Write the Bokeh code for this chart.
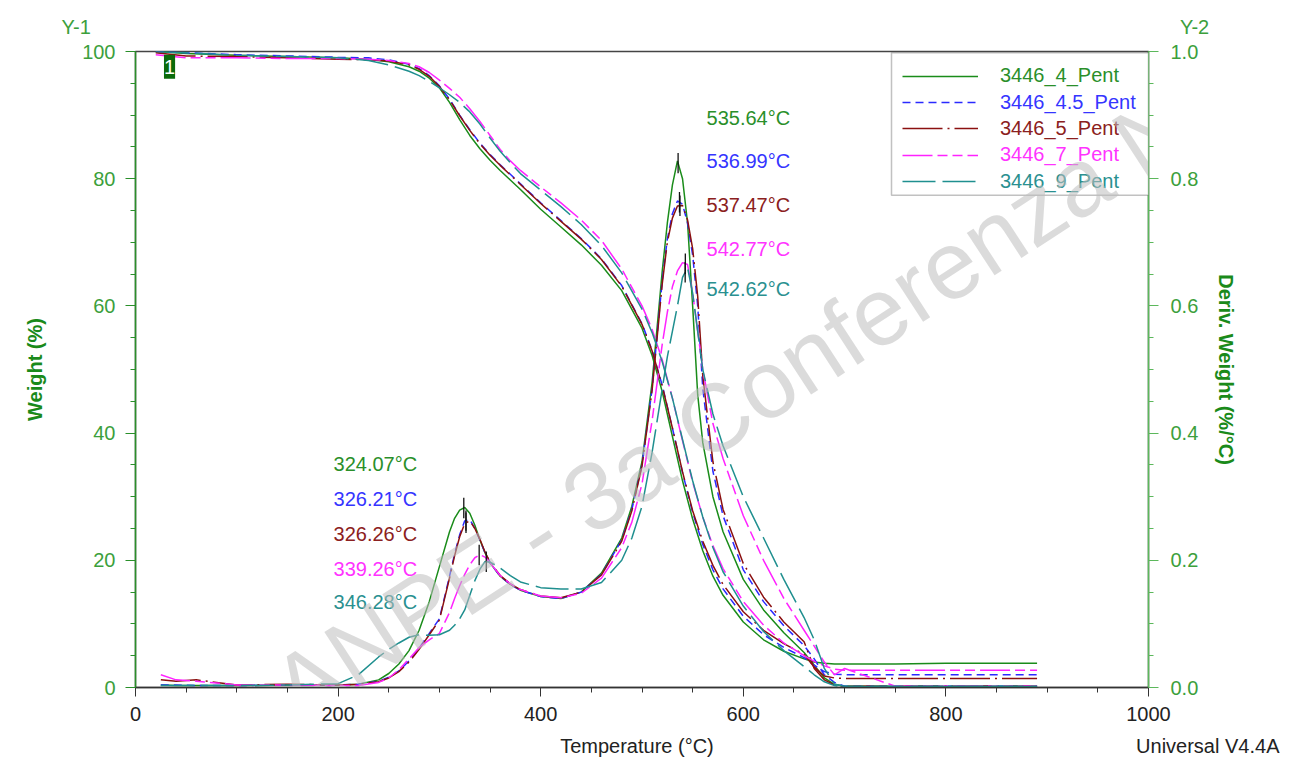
import numpy as np
from bokeh.plotting import figure
from bokeh.models import (Range1d, LinearAxis, FixedTicker, NumeralTickFormatter, Label,
                          Legend, LegendItem, BoxAnnotation, Title)
from bokeh.embed import file_html
from bokeh.resources import INLINE
try:
    from bokeh.models import HTMLLabel as OutLabel
except ImportError:
    OutLabel = Label

FONT = "Liberation Sans"
NB = "\u00a0"

# ---------------- data ----------------
series_names = ["3446_4_Pent", "3446_4.5_Pent", "3446_5_Pent", "3446_7_Pent", "3446_9_Pent"]

T_WEIGHT = [20, 50, 100, 150, 200, 230, 250, 270, 280, 290, 300, 310, 320, 330, 340,
            350, 360, 370, 380, 400, 420, 440, 460, 480, 500, 510, 520, 530, 540, 550,
            560, 570, 580, 600, 620, 640, 660, 670, 680, 690, 700, 750, 800, 850, 890]

W_4 = [100.0, 99.7, 99.4, 99.2, 99.0, 98.8, 98.4, 97.6, 96.9, 95.8,
       94.3, 92.0, 89.3, 86.8, 84.7, 82.9, 81.3, 79.8, 78.3, 75.2,
       72.4, 69.6, 66.4, 62.4, 56.5, 52.2, 46.5, 39.5, 32.5, 26.5,
       21.5, 17.5, 14.5, 10.3, 7.5, 5.7, 4.5, 4.0, 3.8, 3.7,
       3.7, 3.7, 3.8, 3.8, 3.8]
W_45 = [100.0, 99.8, 99.5, 99.3, 99.1, 99.0, 98.7, 98.0, 97.3, 96.2,
        94.6, 92.5, 90.0, 87.7, 85.6, 83.8, 82.2, 80.7, 79.2, 76.2,
        73.4, 70.6, 67.4, 63.2, 57.2, 53.0, 47.5, 40.8, 33.8, 27.5,
        22.5, 18.5, 15.5, 11.2, 8.3, 6.3, 4.7, 3.5, 2.5, 2.1,
        2.0, 2.0, 2.0, 2.0, 2.0]
W_5 = [99.8, 99.3, 99.2, 99.0, 98.8, 98.7, 98.5, 97.9, 97.2, 96.1,
       94.5, 92.4, 89.9, 87.6, 85.5, 83.7, 82.1, 80.6, 79.1, 76.1,
       73.3, 70.5, 67.3, 63.1, 57.1, 52.9, 47.4, 40.8, 33.9, 27.8,
       23.0, 19.2, 16.2, 11.9, 9.0, 6.9, 5.2, 3.2, 1.8, 1.5,
       1.4, 1.4, 1.4, 1.4, 1.4]
W_7 = [99.5, 99.0, 99.0, 98.9, 98.9, 98.8, 98.6, 98.1, 97.6, 96.7,
       95.5, 94.2, 92.8, 91.0, 89.0, 86.8, 84.6, 82.8, 81.3, 78.7,
       76.2, 73.5, 70.3, 65.8, 60.0, 56.3, 51.5, 45.5, 38.8, 32.3,
       26.8, 22.3, 18.7, 13.5, 9.8, 7.0, 5.0, 4.1, 3.4, 2.9,
       2.7, 2.7, 2.7, 2.7, 2.7]
W_9 = [100.0, 99.8, 99.4, 99.2, 99.0, 98.6, 97.9, 96.9, 96.2, 95.3,
       94.3, 93.2, 92.0, 90.5, 88.6, 86.4, 84.3, 82.5, 80.8, 78.2,
       75.6, 72.8, 69.5, 65.2, 59.5, 55.8, 51.2, 45.5, 39.0, 32.5,
       26.8, 22.0, 18.2, 12.8, 8.8, 5.8, 3.3, 2.0, 0.9, 0.3,
       0.1, 0.1, 0.1, 0.1, 0.1]

T_DERIV = [25, 40, 60, 100, 150, 200, 220, 240, 250, 260, 270, 280, 290, 300, 310,
           315, 320, 325, 330, 335, 340, 345, 350, 360, 370, 380, 400, 420, 440, 460,
           480, 490, 500, 510, 520, 525, 530, 535, 540, 545, 550, 555, 560, 570, 580,
           600, 620, 640, 660, 670, 680, 690, 700, 750, 800, 850, 890]

D_4 = [0.004, 0.003, 0.003, 0.003, 0.004, 0.004, 0.005, 0.012, 0.022, 0.037,
       0.058, 0.090, 0.135, 0.190, 0.245, 0.266, 0.279, 0.283, 0.274, 0.255,
       0.232, 0.212, 0.196, 0.175, 0.162, 0.153, 0.143, 0.140, 0.150, 0.180,
       0.235, 0.285, 0.355, 0.480, 0.655, 0.730, 0.790, 0.828, 0.800, 0.730,
       0.600, 0.460, 0.385, 0.300, 0.245, 0.170, 0.122, 0.086, 0.055, 0.035,
       0.015, 0.005, 0.002, 0.002, 0.002, 0.002, 0.002]
D_45 = [0.004, 0.004, 0.003, 0.003, 0.004, 0.004, 0.005, 0.010, 0.016, 0.026,
        0.042, 0.062, 0.085, 0.108, 0.175, 0.210, 0.240, 0.262, 0.264, 0.250,
        0.232, 0.212, 0.196, 0.175, 0.162, 0.153, 0.143, 0.140, 0.150, 0.178,
        0.232, 0.280, 0.350, 0.470, 0.640, 0.705, 0.745, 0.765, 0.760, 0.730,
        0.680, 0.600, 0.470, 0.340, 0.270, 0.185, 0.135, 0.097, 0.066, 0.045,
        0.020, 0.008, 0.002, 0.002, 0.002, 0.002, 0.002]
D_5 = [0.012, 0.010, 0.012, 0.004, 0.005, 0.004, 0.005, 0.009, 0.015, 0.025,
       0.040, 0.060, 0.083, 0.106, 0.172, 0.207, 0.237, 0.258, 0.262, 0.250,
       0.233, 0.213, 0.197, 0.176, 0.163, 0.154, 0.144, 0.141, 0.150, 0.177,
       0.230, 0.278, 0.348, 0.468, 0.635, 0.700, 0.738, 0.757, 0.758, 0.735,
       0.690, 0.615, 0.490, 0.355, 0.280, 0.195, 0.142, 0.103, 0.072, 0.030,
       0.012, 0.004, 0.002, 0.002, 0.002, 0.002, 0.002]
D_7 = [0.020, 0.012, 0.010, 0.004, 0.004, 0.003, 0.003, 0.008, 0.015, 0.028,
       0.045, 0.063, 0.075, 0.085, 0.118, 0.140, 0.160, 0.178, 0.193, 0.204,
       0.209, 0.205, 0.196, 0.176, 0.163, 0.154, 0.144, 0.141, 0.148, 0.172,
       0.220, 0.260, 0.320, 0.420, 0.540, 0.590, 0.630, 0.655, 0.668, 0.665,
       0.620, 0.560, 0.500, 0.415, 0.360, 0.270, 0.200, 0.140, 0.090, 0.065,
       0.040, 0.020, 0.030, 0.002, 0.002, 0.002, 0.002]
D_9 = [0.003, 0.003, 0.003, 0.003, 0.004, 0.006, 0.020, 0.048, 0.060, 0.070,
       0.079, 0.083, 0.082, 0.083, 0.090, 0.098, 0.108, 0.122, 0.145, 0.168,
       0.186, 0.198, 0.197, 0.188, 0.176, 0.166, 0.157, 0.155, 0.155, 0.165,
       0.200, 0.235, 0.285, 0.370, 0.470, 0.520, 0.560, 0.600, 0.645, 0.660,
       0.620, 0.560, 0.500, 0.430, 0.380, 0.300, 0.235, 0.170, 0.110, 0.075,
       0.030, 0.005, 0.002, 0.002, 0.002, 0.002, 0.002]

PEAK1_T = [324.07, 326.21, 326.26, 339.26, 346.28]
PEAK2_T = [535.64, 536.99, 537.47, 542.77, 542.62]

X_TICKS = [0, 200, 400, 600, 800, 1000]
Y1_TICKS = [0, 20, 40, 60, 80, 100]
Y2_TICKS = [0.0, 0.2, 0.4, 0.6, 0.8, 1.0]

weights = [W_4, W_45, W_5, W_7, W_9]
derivs = [D_4, D_45, D_5, D_7, D_9]

# ---------------- styles ----------------
colors = ["#1a8c1a", "#2a2aff", "#8b1010", "#ff22ff", "#1f8f8f"]
text_colors = ["#2a8f2a", "#3535ff", "#8b2020", "#ff33ff", "#2a9090"]
dashes = ["solid", "8 5", "40 5 2 5", "30 5 10 5 10 5", "33 7"]

p = figure(width=1288, height=760, output_backend="svg", toolbar_location=None,
           x_range=Range1d(0, 1000), y_range=Range1d(0, 100),
           min_border_left=135, min_border_right=140, min_border_top=51, min_border_bottom=73,
           background_fill_color="white", border_fill_color="white")
p.extra_y_ranges = {"deriv": Range1d(0, 1)}
p.xgrid.visible = False
p.ygrid.visible = False
p.outline_line_color = "#444444"
p.outline_line_width = 1.5

# x axis (its label line also carries the software tag at the far right)
xa = p.xaxis[0]
xa.ticker = FixedTicker(ticks=X_TICKS, minor_ticks=list(range(50, 1000, 50)))
xa.axis_label = NB * 100 + "Temperature (°C)" + NB * 76 + "Universal V4.4A"
xa.axis_label_text_font = FONT
xa.axis_label_text_font_size = "20px"
xa.axis_label_text_font_style = "normal"
xa.axis_label_text_color = "#222222"
xa.axis_label_standoff = 11
xa.major_label_text_font = FONT
xa.major_label_text_font_size = "20px"
xa.major_label_text_color = "#222222"
xa.major_label_standoff = 10
xa.axis_line_color = "#333333"
xa.axis_line_width = 1.5
xa.major_tick_line_color = "#333333"
xa.minor_tick_line_color = "#333333"
xa.major_tick_out = 9
xa.major_tick_in = 0
xa.minor_tick_out = 5
xa.minor_tick_in = 0

# left axis
ya = p.yaxis[0]
ya.ticker = FixedTicker(ticks=Y1_TICKS, minor_ticks=list(range(5, 100, 5)))
ya.axis_label = "Weight (%)"
ya.axis_label_text_font = FONT
ya.axis_label_text_font_size = "20px"
ya.axis_label_text_font_style = "bold"
ya.axis_label_text_color = "#1a8a1a"
ya.axis_label_standoff = 33
ya.major_label_text_font = FONT
ya.major_label_text_font_size = "20px"
ya.major_label_text_color = "#3c9f3c"
ya.major_label_standoff = 10
ya.axis_line_color = "#2a8f2a"
ya.axis_line_width = 1.5
ya.major_tick_line_color = "#2a8f2a"
ya.minor_tick_line_color = "#2a8f2a"
ya.major_tick_out = 10
ya.major_tick_in = 0
ya.minor_tick_out = 5
ya.minor_tick_in = 0

# right axis
ra = LinearAxis(y_range_name="deriv")
ra.ticker = FixedTicker(ticks=Y2_TICKS, minor_ticks=[round(0.05 * i, 2) for i in range(1, 20)])
ra.formatter = NumeralTickFormatter(format="0.0")
ra.axis_label = "Deriv. Weight (%/°C)"
ra.axis_label_text_font = FONT
ra.axis_label_text_font_size = "20px"
ra.axis_label_text_font_style = "bold"
ra.axis_label_text_color = "#1a8a1a"
ra.axis_label_standoff = 14
ra.major_label_text_font = FONT
ra.major_label_text_font_size = "20px"
ra.major_label_text_color = "#3c9f3c"
ra.major_label_standoff = 12
ra.axis_line_color = "#5cb85c"
ra.axis_line_width = 1.5
ra.major_tick_line_color = "#5cb85c"
ra.minor_tick_line_color = "#5cb85c"
ra.major_tick_out = 10
ra.major_tick_in = 0
ra.minor_tick_out = 5
ra.minor_tick_in = 0
p.add_layout(ra, "right")

# top line: axis identifiers Y-1 (left) and Y-2 (right)
p.add_layout(Title(text="Y-1" + NB * 196 + "Y-2", align="left", offset=-74, standoff=27,
                   text_font=FONT, text_font_size="20px", text_font_style="normal",
                   text_color="#3c9f3c"), "above")

# curves
weight_renderers = []
for i in range(5):
    rw = p.line(T_WEIGHT, weights[i], line_color=colors[i], line_width=1.5, line_dash=dashes[i])
    p.line(T_DERIV, derivs[i], line_color=colors[i], line_width=1.5, line_dash=dashes[i],
           y_range_name="deriv")
    weight_renderers.append(rw)

# peak markers
for peaks in (PEAK1_T, PEAK2_T):
    for i in range(5):
        d = float(np.interp(peaks[i], T_DERIV, derivs[i]))
        p.segment(x0=[peaks[i]], y0=[d - 0.016], x1=[peaks[i]], y1=[d + 0.016],
                  line_color="#111111", line_width=1.3, y_range_name="deriv")

# peak labels
upper_y = [89.6, 82.8, 75.9, 68.9, 62.7]
lower_y = [35.2, 29.6, 24.1, 18.6, 13.4]
for i in range(5):
    p.add_layout(Label(x=563.7, y=upper_y[i], text=f"{PEAK2_T[i]:.2f}°C", text_font=FONT,
                       text_font_size="20px", text_color=text_colors[i],
                       text_baseline="middle", text_align="left"))
    p.add_layout(Label(x=195.5, y=lower_y[i], text=f"{PEAK1_T[i]:.2f}°C", text_font=FONT,
                       text_font_size="20px", text_color=text_colors[i],
                       text_baseline="middle", text_align="left"))

# legend box + legends (one per item, for per-item text colour)
box = BoxAnnotation(left=746.3, right=1000, top=99.8, bottom=77.4, fill_color="white",
                    fill_alpha=1.0, line_color="#333333", line_width=1.5)
p.add_layout(box)
row_bottoms = [600, 573.5, 547.3, 521, 494.5]
for i in range(5):
    leg = Legend(items=[LegendItem(label=series_names[i], renderers=[weight_renderers[i]])],
                 location=(767, row_bottoms[i]), glyph_width=76, glyph_height=20,
                 label_height=20, label_standoff=22, padding=0, margin=0, spacing=0,
                 border_line_alpha=0, background_fill_alpha=0,
                 label_text_font=FONT, label_text_font_size="20px",
                 label_text_color=text_colors[i])
    p.add_layout(leg)

p.add_layout(Label(x=33.6, y=97.6, text="1", text_font=FONT, text_font_size="20px",
                   text_color="white", text_align="center", text_baseline="middle",
                   background_fill_color="#0b6b0b", padding=(0, 5)))

# watermark
p.add_layout(OutLabel(x=145.1, y=-1.9, text="ANPE - 3a Conferenza Naz", angle=0.576,
                      text_font=FONT, text_font_size="96px", text_color="#bdbdbd",
                      text_alpha=0.55, text_baseline="middle", text_align="left"))

open("out.html", "w").write(file_html(p, INLINE))
